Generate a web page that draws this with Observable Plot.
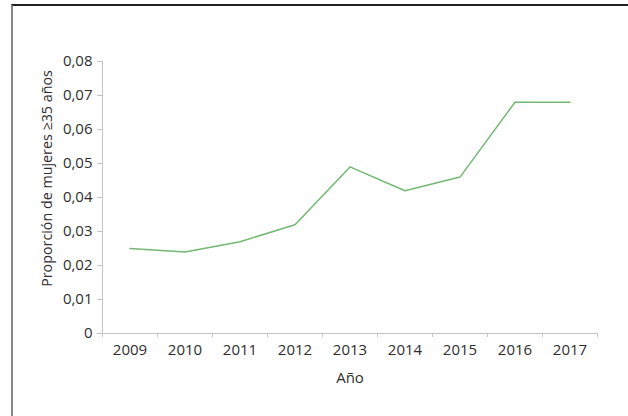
<!DOCTYPE html>
<html>
<head>
<meta charset="utf-8">
<script src="https://cdn.jsdelivr.net/npm/d3@7"></script>
<script src="https://cdn.jsdelivr.net/npm/@observablehq/plot@0.6"></script>
<style>
  html, body { margin: 0; padding: 0; background: #fff; }
  #wrap { position: relative; width: 628px; height: 416px; overflow: hidden; }
  #border { position: absolute; left: 11px; top: 4px; width: 640px; height: 440px;
            border-top: 2px solid #222; border-left: 2px solid #888; box-sizing: border-box; }
  #chart { position: absolute; left: 0; top: 0; }
</style>
</head>
<body>
<div id="wrap"><div id="border"></div><div id="chart"></div></div>
<script>
const years = [2009, 2010, 2011, 2012, 2013, 2014, 2015, 2016, 2017];
const proportion = [0.025, 0.024, 0.027, 0.032, 0.049, 0.042, 0.046, 0.068, 0.068];
const yTicks = [0, 0.01, 0.02, 0.03, 0.04, 0.05, 0.06, 0.07, 0.08];
const xLabel = "Año";
const yLabel = "Proporción de mujeres ≥35 años";

const data = years.map((y, i) => ({year: y, value: proportion[i]}));
const bounds = d3.range(years[0] - 0.5, years[years.length - 1] + 1, 1);
const fmt = d => d === 0 ? "0" : d.toFixed(2).replace(".", ",");

const plot = Plot.plot({
  width: 628,
  height: 416,
  marginLeft: 102,
  marginRight: 31,
  marginTop: 61,
  marginBottom: 83,
  style: {fontFamily: "'Open Sans', sans-serif", fontSize: "15px", color: "#333", background: "transparent"},
  x: {type: "linear", domain: [bounds[0], bounds[bounds.length - 1]]},
  y: {domain: [0, 0.08]},
  marks: [
    Plot.ruleX([bounds[0]], {y1: 0, y2: 0.08, stroke: "#c4c4c4", strokeWidth: 1}),
    Plot.ruleY([0], {x1: bounds[0], x2: bounds[bounds.length - 1], stroke: "#c4c4c4", strokeWidth: 1}),
    Plot.axisY({ticks: yTicks, tickFormat: fmt, tickSize: 5, tickPadding: 5, stroke: "#c4c4c4", fill: "#2e2e2e", fontSize: 15, label: null}),
    Plot.axisX({ticks: bounds, tickSize: 4, tickFormat: () => "", stroke: "#c4c4c4", label: null}),
    Plot.axisX({ticks: years, tickSize: 0, tickPadding: 11, tickFormat: d => String(d), fill: "#2e2e2e", fontSize: 15, label: null}),
    Plot.line(data, {x: "year", y: "value", stroke: "#73b873", strokeWidth: 1.5}),
    Plot.text([xLabel], {frameAnchor: "bottom", dy: 49, fontSize: 15, fill: "#2e2e2e"}),
    Plot.text([yLabel], {frameAnchor: "left", textAnchor: "middle", rotate: -90, dx: -55, dy: -19, fontSize: 14.3, fill: "#2e2e2e"})
  ]
});
document.getElementById("chart").appendChild(plot);
</script>
</body>
</html>
